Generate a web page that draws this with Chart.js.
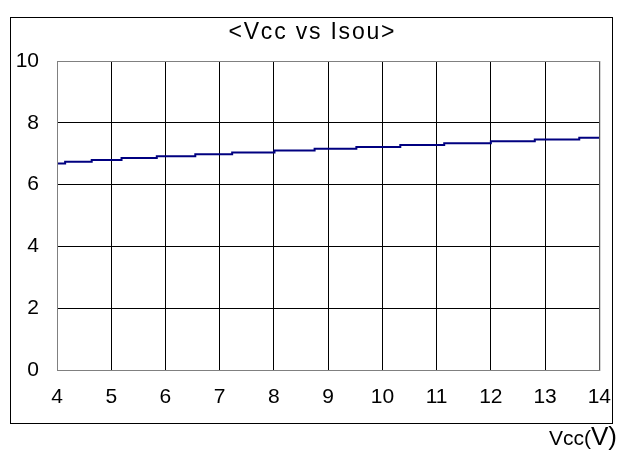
<!DOCTYPE html>
<html>
<head>
<meta charset="utf-8">
<script src="https://cdn.jsdelivr.net/npm/chart.js@4"></script>
<style>
  html, body { margin: 0; padding: 0; background: #fff; }
  #wrap { width: 626px; height: 452px; }
</style>
</head>
<body>
<div id="wrap"><canvas id="chartVcc"></canvas></div>
<script>
// step points (Vcc where the level changes, and the level)
const stepVcc = [4, 4.15, 4.64, 5.19, 5.84, 6.55, 7.23, 8.01, 8.75, 9.52, 10.33, 11.14, 12.0, 12.81, 13.63, 14];
const stepIsou = [6.68, 6.74, 6.80, 6.86, 6.92, 6.98, 7.04, 7.10, 7.16, 7.22, 7.28, 7.34, 7.40, 7.46, 7.52, 7.52];
const xTicks = [4, 5, 6, 7, 8, 9, 10, 11, 12, 13, 14];
const yTicks = [0, 2, 4, 6, 8, 10];
const titleText = "<Vcc vs Isou>";

const FONT = "'Liberation Sans', Arial, sans-serif";

// outer frame, title (wide letter spacing) and axis caption
const frame = {
  id: "frame",
  afterDraw(chart) {
    const ctx = chart.ctx;
    const a = chart.chartArea;
    ctx.save();
    // plot border
    ctx.strokeStyle = "#808080";
    ctx.lineWidth = 1;
    ctx.strokeRect(a.left + 0.5, a.top + 0.5, a.right - a.left, a.bottom - a.top);
    // outer box
    ctx.strokeStyle = "#000";
    ctx.strokeRect(10.5, 17.5, 602, 406);
    ctx.fillStyle = "#000";
    ctx.textBaseline = "alphabetic";
    // title
    ctx.font = "23px " + FONT;
    ctx.letterSpacing = "1.8px";
    const tw = ctx.measureText(titleText).width - 1.8;
    ctx.fillText(titleText, 311.5 - tw / 2, 39);
    ctx.letterSpacing = "0px";
    // Vcc(V)
    ctx.font = "21px " + FONT;
    const w1 = ctx.measureText("Vcc(").width;
    ctx.font = "26px " + FONT;
    const w2 = ctx.measureText("V)").width;
    const x0 = 617 - w1 - w2;
    ctx.font = "21px " + FONT;
    ctx.fillText("Vcc(", x0, 445);
    ctx.font = "26px " + FONT;
    ctx.fillText("V)", x0 + w1, 445);
    ctx.restore();
  }
};

new Chart(document.getElementById("chartVcc"), {
  type: "line",
  data: {
    datasets: [{
      data: stepVcc.map((v, i) => ({ x: v, y: stepIsou[i] })),
      borderColor: "#000080",
      borderWidth: 2,
      pointRadius: 0,
      stepped: "before",
      fill: false
    }]
  },
  options: {
    responsive: true,
    maintainAspectRatio: false,
    animation: false,
    layout: { padding: { left: 0, right: 24, top: 61, bottom: 0 } },
    plugins: {
      legend: { display: false },
      tooltip: { enabled: false },
      title: { display: false }
    },
    scales: {
      x: {
        type: "linear",
        min: 4,
        max: 14,
        afterBuildTicks: s => { s.ticks = xTicks.map(v => ({ value: v })); },
        afterFit: s => { s.height = 82; },
        grid: { color: "#000", drawTicks: false },
        border: { display: false },
        ticks: { color: "#000", padding: 15, maxRotation: 0, font: { family: FONT, size: 21 } }
      },
      y: {
        min: 0,
        max: 10,
        afterBuildTicks: s => { s.ticks = yTicks.map(v => ({ value: v })); },
        afterFit: s => { s.width = 57; },
        grid: { color: "#000", drawTicks: false },
        border: { display: false },
        ticks: { color: "#000", padding: 18, font: { family: FONT, size: 21 } }
      }
    }
  },
  plugins: [frame]
});
</script>
</body>
</html>
